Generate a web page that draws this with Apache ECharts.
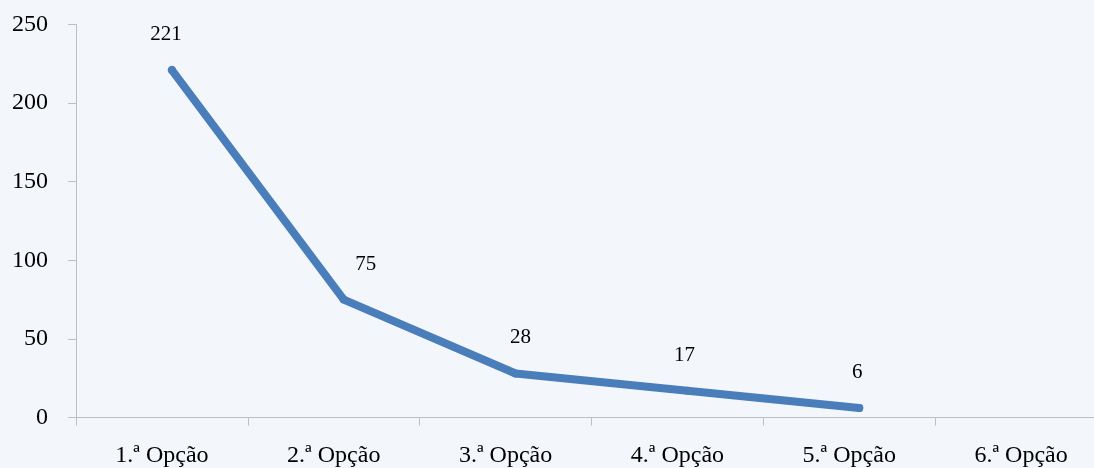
<!DOCTYPE html>
<html>
<head>
<meta charset="utf-8">
<script src="https://cdn.jsdelivr.net/npm/echarts@6/dist/echarts.min.js"></script>
<style>
html,body{margin:0;padding:0;background:#F3F7FB;}
#c{width:1094px;height:468px;}
</style>
</head>
<body>
<div id="c"></div>
<script>
const categories = ['1.ª Opção','2.ª Opção','3.ª Opção','4.ª Opção','5.ª Opção','6.ª Opção'];
const values = [221, 75, 28, 17, 6, null];
const yTicks = { min: 0, max: 250, interval: 50 };

// label nudges (style only)
const labelDx = [-6, 22, 5, -3, -2, 0];

const font = '"Liberation Serif", "Times New Roman", serif';
const chart = echarts.init(document.getElementById('c'), null, {renderer: 'canvas'});
const gridBase = { top: 24.5, height: 393, width: 1031, outerBoundsMode: 'none', containLabel: false };
chart.setOption({
  backgroundColor: '#F3F7FB',
  animation: false,
  grid: [
    Object.assign({ left: 76 }, gridBase),
    Object.assign({ left: 86 }, gridBase)
  ],
  xAxis: [
    {
      type: 'category', gridIndex: 0, data: categories, boundaryGap: true,
      axisLine: { lineStyle: { color: '#BFBFBF', width: 1 } },
      axisTick: { show: true, length: 8, lineStyle: { color: '#BFBFBF' } },
      axisLabel: { color: '#000', fontFamily: font, fontSize: 24, margin: 26, interval: 0 },
      splitLine: { show: false }
    },
    {
      type: 'category', gridIndex: 1, data: categories, boundaryGap: true, show: false
    }
  ],
  yAxis: [
    {
      type: 'value', gridIndex: 0, min: yTicks.min, max: yTicks.max, interval: yTicks.interval,
      axisLine: { show: true, lineStyle: { color: '#BFBFBF', width: 1 } },
      axisTick: { show: true, length: 8, lineStyle: { color: '#BFBFBF' } },
      axisLabel: { color: '#000', fontFamily: font, fontSize: 24, margin: 28 },
      splitLine: { show: false }
    },
    {
      type: 'value', gridIndex: 1, min: yTicks.min, max: yTicks.max, interval: yTicks.interval, show: false
    }
  ],
  series: [{
    type: 'line',
    xAxisIndex: 1, yAxisIndex: 1,
    data: values.map((v, i) => ({
      value: v,
      label: { offset: [labelDx[i], 0] }
    })),
    showSymbol: true,
    symbol: 'circle',
    symbolSize: 8,
    itemStyle: { color: '#4A7EBB' },
    lineStyle: { color: '#4A7EBB', width: 8, cap: 'round', join: 'round' },
    connectNulls: false,
    label: {
      show: true, position: 'top', distance: 21,
      color: '#000', fontFamily: font, fontSize: 21
    }
  }]
});
</script>
</body>
</html>
